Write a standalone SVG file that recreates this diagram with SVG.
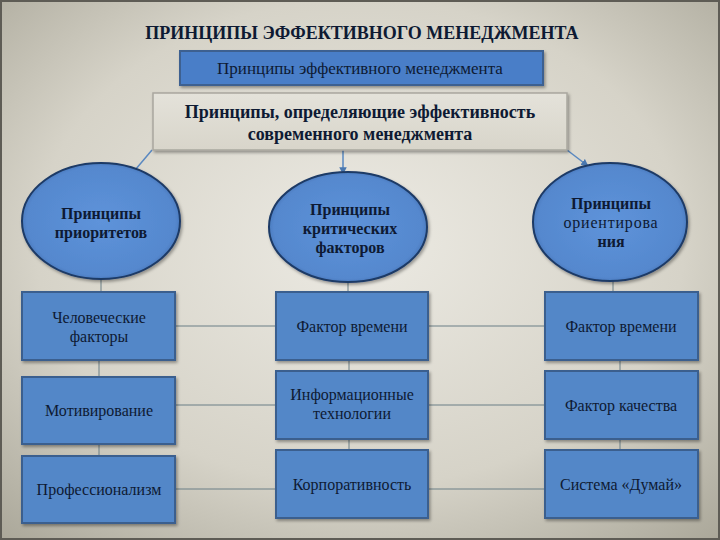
<svg xmlns="http://www.w3.org/2000/svg" width="720" height="540" viewBox="0 0 720 540">
<defs>
<radialGradient id="bg" cx="50%" cy="45%" r="75%">
<stop offset="0" stop-color="#ECEAE3"/>
<stop offset="0.6" stop-color="#D6D3C8"/>
<stop offset="1" stop-color="#A9A698"/>
</radialGradient>
<radialGradient id="eg" cx="50%" cy="50%" r="55%">
<stop offset="0" stop-color="#5E93DA"/>
<stop offset="0.85" stop-color="#5588CE"/>
<stop offset="1" stop-color="#3F6CAE"/>
</radialGradient>
<linearGradient id="gbox" x1="0" y1="0" x2="0" y2="1">
<stop offset="0" stop-color="#E4E2DA"/>
<stop offset="1" stop-color="#D8D5CA"/>
</linearGradient>
<filter id="sh" x="-10%" y="-10%" width="125%" height="130%">
<feDropShadow dx="1.5" dy="2" stdDeviation="1.5" flood-color="#000" flood-opacity="0.35"/>
</filter>
<marker id="ar" viewBox="0 0 10 10" refX="9" refY="5" markerWidth="5" markerHeight="5" orient="auto">
<path d="M0,0 L10,5 L0,10 z" fill="#4A78B0"/>
</marker>
</defs>
<style>
text{font-family:'Liberation Serif','DejaVu Serif',serif}
.t{fill:#0E1A33;text-anchor:middle}
.b{font-weight:bold}
.ell{fill:url(#eg);stroke:#1E3A66;stroke-width:2}
.box{fill:#5387C8;stroke:#3A5E8E;stroke-width:2}
.ln{stroke:#6A7E86;stroke-width:1;fill:none}
.arr{stroke:#5A88C0;stroke-width:1.5;fill:none}
</style>
<rect width="720" height="540" fill="url(#bg)"/>
<rect x="1" y="1" width="718" height="538" fill="none" stroke="#5E5C55" stroke-width="2"/>

<text class="t b" x="362" y="39" font-size="18">ПРИНЦИПЫ ЭФФЕКТИВНОГО МЕНЕДЖМЕНТА</text>

<g id="connectors">
<line class="arr" x1="152" y1="150" x2="130" y2="176" marker-end="url(#ar)"/>
<line class="arr" x1="343" y1="150" x2="343" y2="174" marker-end="url(#ar)"/>
<line class="arr" x1="567" y1="150" x2="588" y2="166" marker-end="url(#ar)"/>
<line class="ln" x1="101" y1="279" x2="101" y2="292"/>
<line class="ln" x1="348" y1="282" x2="348" y2="292"/>
<line class="ln" x1="613" y1="281" x2="613" y2="292"/>
<line class="ln" x1="99" y1="360" x2="99" y2="376"/>
<line class="ln" x1="99" y1="444" x2="99" y2="455"/>
<line class="ln" x1="349" y1="360" x2="349" y2="370"/>
<line class="ln" x1="349" y1="439" x2="349" y2="449"/>
<line class="ln" x1="620" y1="360" x2="620" y2="370"/>
<line class="ln" x1="620" y1="439" x2="620" y2="449"/>
<line class="ln" x1="175" y1="326" x2="276" y2="326"/>
<line class="ln" x1="428" y1="326" x2="545" y2="326"/>
<line class="ln" x1="175" y1="405" x2="276" y2="405"/>
<line class="ln" x1="428" y1="405" x2="545" y2="405"/>
<line class="ln" x1="175" y1="489" x2="276" y2="489"/>
<line class="ln" x1="428" y1="489" x2="545" y2="489"/>
</g>

<g id="top">
<rect x="180" y="51" width="363" height="34" fill="#4A7EC8" stroke="#3C6190" stroke-width="2" filter="url(#sh)"/>
<text class="t" x="360" y="74" font-size="17">Принципы эффективного менеджмента</text>
</g>

<g id="sub">
<rect x="153" y="93" width="414" height="57" fill="url(#gbox)" stroke="#A9A79E" stroke-width="1.5" filter="url(#sh)"/>
<text class="t b" x="360" y="118" font-size="18">Принципы, определяющие эффективность</text>
<text class="t b" x="360" y="140" font-size="18">современного менеджмента</text>
</g>

<g id="e1">
<ellipse class="ell" cx="101" cy="221" rx="79" ry="58" filter="url(#sh)"/>
<text class="t b" x="101" y="219" font-size="16">Принципы</text>
<text class="t b" x="101" y="238" font-size="16">приоритетов</text>
</g>
<g id="e2">
<ellipse class="ell" cx="348" cy="227" rx="79" ry="55" filter="url(#sh)"/>
<text class="t b" x="350" y="215" font-size="16">Принципы</text>
<text class="t b" x="350" y="234" font-size="16">критических</text>
<text class="t b" x="350" y="253" font-size="16">факторов</text>
</g>
<g id="e3">
<ellipse class="ell" cx="610" cy="222" rx="77" ry="59" filter="url(#sh)"/>
<text class="t b" x="611" y="209" font-size="16">Принципы</text>
<text class="t" x="611" y="228" font-size="16" letter-spacing="0.8">ориентирова</text>
<text class="t b" x="611" y="247" font-size="16">ния</text>
</g>

<g id="b11"><rect class="box" x="22" y="292" width="153" height="68" filter="url(#sh)"/>
<text class="t" x="99" y="323" font-size="16">Человеческие</text>
<text class="t" x="99" y="342" font-size="16">факторы</text></g>
<g id="b12"><rect class="box" x="276" y="292" width="152" height="68" filter="url(#sh)"/>
<text class="t" x="352" y="332" font-size="16">Фактор времени</text></g>
<g id="b13"><rect class="box" x="545" y="292" width="153" height="68" filter="url(#sh)"/>
<text class="t" x="621" y="332" font-size="16">Фактор времени</text></g>

<g id="b21"><rect class="box" x="22" y="377" width="153" height="67" filter="url(#sh)"/>
<text class="t" x="99" y="416" font-size="16">Мотивирование</text></g>
<g id="b22"><rect class="box" x="276" y="371" width="152" height="68" filter="url(#sh)"/>
<text class="t" x="352" y="400" font-size="16">Информационные</text>
<text class="t" x="352" y="419" font-size="16">технологии</text></g>
<g id="b23"><rect class="box" x="545" y="371" width="153" height="68" filter="url(#sh)"/>
<text class="t" x="621" y="411" font-size="16">Фактор качества</text></g>

<g id="b31"><rect class="box" x="22" y="456" width="153" height="67" filter="url(#sh)"/>
<text class="t" x="99" y="495" font-size="16">Профессионализм</text></g>
<g id="b32"><rect class="box" x="276" y="450" width="152" height="68" filter="url(#sh)"/>
<text class="t" x="352" y="490" font-size="16">Корпоративность</text></g>
<g id="b33"><rect class="box" x="545" y="450" width="153" height="68" filter="url(#sh)"/>
<text class="t" x="621" y="490" font-size="16">Система «Думай»</text></g>
</svg>
